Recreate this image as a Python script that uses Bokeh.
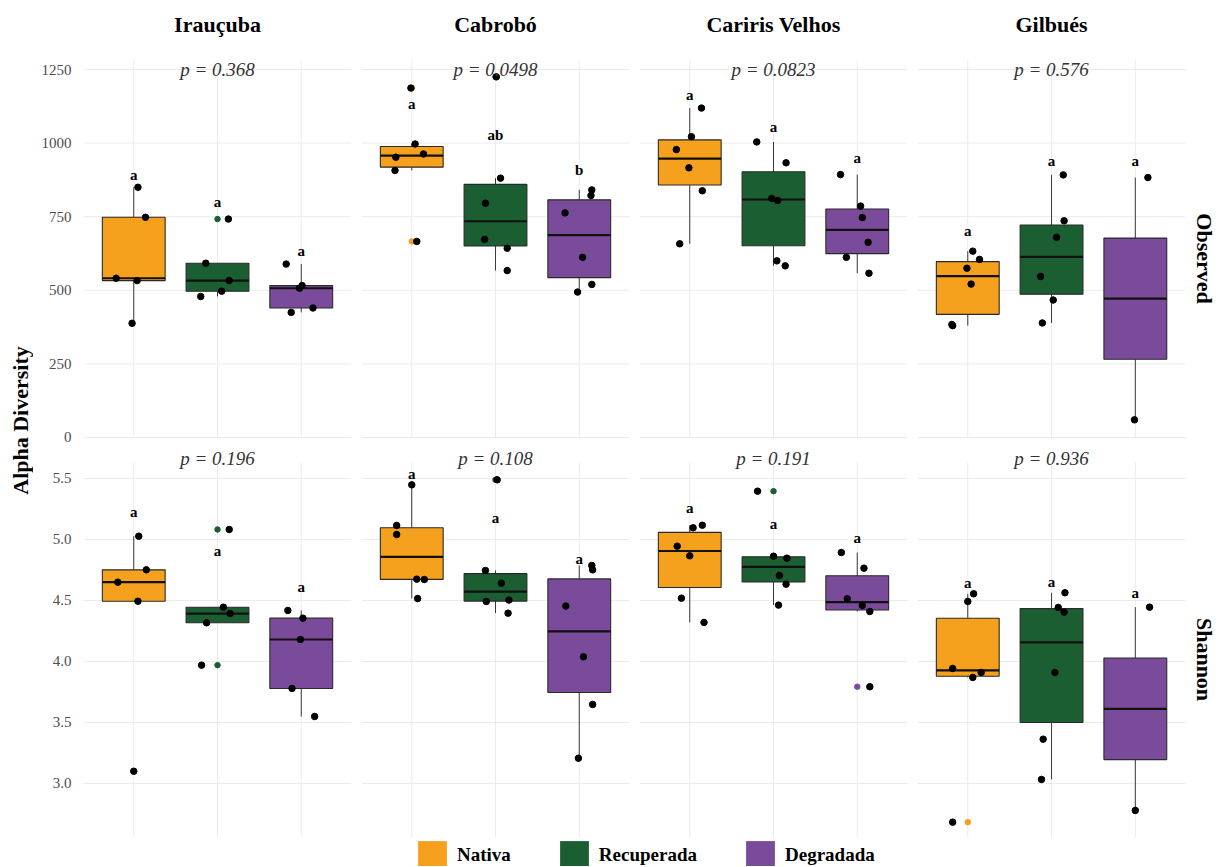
import numpy as np
from bokeh.plotting import figure
from bokeh.models import (Range1d, FixedTicker, LinearAxis, Label,
                          Legend, LegendItem, ColumnDataSource, PrintfTickFormatter)
from bokeh.layouts import row, column
from bokeh.embed import file_html
from bokeh.resources import INLINE
from bokeh.core.properties import value

SERIF = "Liberation Serif"

sites = ["Irauçuba", "Cabrobó", "Cariris Velhos", "Gilbués"]
metrics = ["Observed", "Shannon"]
groups = ["Nativa", "Recuperada", "Degradada"]
colors = ["#F6A11D", "#1B5E32", "#7B4B9B"]

# ---- Observed richness (per site: Nativa, Recuperada, Degradada) ----
obs_iraucuba = [[850, 748, 541, 533, 388],
                [742, 592, 533, 497, 479],
                [589, 516, 507, 440, 425]]
obs_cabrobo = [[1187, 997, 963, 952, 907, 666],
               [1225, 881, 796, 673, 643, 567],
               [841, 822, 763, 612, 520, 494]]
obs_cariris = [[1119, 1022, 978, 916, 838, 658],
               [1004, 933, 812, 805, 600, 583],
               [893, 786, 747, 663, 612, 558]]
obs_gilbues = [[633, 605, 575, 521, 384, 380],
               [892, 736, 680, 547, 467, 389],
               [883, 60]]

# ---- Shannon index ----
sha_iraucuba = [[5.027, 4.751, 4.65, 4.494, 3.10],
                [5.082, 4.445, 4.393, 4.317, 3.97],
                [4.418, 4.355, 4.18, 3.779, 3.549]]
sha_cabrobo = [[5.448, 5.115, 5.041, 4.675, 4.672, 4.516],
               [5.489, 4.746, 4.642, 4.492, 4.503, 4.396],
               [4.787, 4.751, 4.454, 4.038, 3.648, 3.207]]
sha_cariris = [[5.117, 5.096, 4.945, 4.866, 4.519, 4.32],
               [5.396, 4.863, 4.847, 4.705, 4.634, 4.462],
               [4.893, 4.765, 4.514, 4.459, 4.41, 3.793]]
sha_gilbues = [[4.555, 4.492, 3.943, 3.91, 3.869, 2.683],
               [4.563, 4.443, 4.404, 3.91, 3.363, 3.033],
               [4.445, 2.779]]

# ---- horizontal jitter of the sample points (category units) ----
obs_iraucuba_jit = [[0.05, 0.14, -0.21, 0.04, -0.02],
                    [0.13, -0.14, 0.14, 0.05, -0.20],
                    [-0.18, 0.01, -0.02, 0.14, -0.12]]
obs_cabrobo_jit = [[-0.01, 0.04, 0.14, -0.19, -0.20, 0.06],
                   [0.01, 0.06, -0.12, -0.13, 0.14, 0.14],
                   [0.15, 0.14, -0.17, 0.04, 0.15, -0.02]]
obs_cariris_jit = [[0.14, 0.02, -0.16, -0.01, 0.15, -0.12],
                   [-0.20, 0.15, -0.02, 0.05, 0.04, 0.14],
                   [-0.20, 0.04, 0.06, 0.13, -0.13, 0.14]]
obs_gilbues_jit = [[0.06, 0.14, -0.01, 0.04, -0.19, -0.18],
                   [0.14, 0.15, 0.06, -0.13, 0.02, -0.11],
                   [0.15, -0.01]]
sha_iraucuba_jit = [[0.06, 0.15, -0.19, 0.05, 0.0],
                    [0.14, 0.07, 0.15, -0.13, -0.19],
                    [-0.16, 0.02, -0.01, -0.11, 0.16]]
sha_cabrobo_jit = [[0.0, -0.18, -0.18, 0.06, 0.15, 0.07],
                   [0.02, -0.12, 0.07, -0.11, 0.16, 0.15],
                   [0.15, 0.16, -0.16, 0.05, 0.16, -0.01]]
sha_cariris_jit = [[0.15, 0.04, -0.15, 0.0, -0.10, 0.17],
                   [-0.19, 0.0, 0.16, 0.07, 0.15, 0.06],
                   [-0.19, 0.08, -0.12, 0.06, 0.15, 0.15]]
sha_gilbues_jit = [[0.07, 0.0, -0.18, 0.16, 0.06, -0.18],
                   [0.16, 0.08, 0.15, 0.04, -0.10, -0.12],
                   [0.17, 0.0]]

# ---- significance letters and their heights ----
obs_letters = [["a", "a", "a"], ["a", "ab", "b"], ["a", "a", "a"], ["a", "a", "a"]]
obs_letter_y = [[893, 799, 635], [1133, 1029, 907], [1164, 1054, 949], [703, 938, 938]]
sha_letters = [["a", "a", "a"], ["a", "a", "a"], ["a", "a", "a"], ["a", "a", "a"]]
sha_letter_y = [[5.224, 4.904, 4.61], [5.539, 5.175, 4.84], [5.26, 5.123, 5.014], [4.642, 4.65, 4.56]]

# ---- Kruskal-Wallis p values ----
obs_p = ["0.368", "0.0498", "0.0823", "0.576"]
sha_p = ["0.196", "0.108", "0.191", "0.936"]

obs_ticks = [0, 250, 500, 750, 1000, 1250]
sha_ticks = [3.0, 3.5, 4.0, 4.5, 5.0, 5.5]

obs_data = [obs_iraucuba, obs_cabrobo, obs_cariris, obs_gilbues]
obs_jit = [obs_iraucuba_jit, obs_cabrobo_jit, obs_cariris_jit, obs_gilbues_jit]
sha_data = [sha_iraucuba, sha_cabrobo, sha_cariris, sha_gilbues]
sha_jit = [sha_iraucuba_jit, sha_cabrobo_jit, sha_cariris_jit, sha_gilbues_jit]

GRID = "#EBEBEB"
BOXW = 0.75
X_PANEL = (0.4, 3.6)
PX_PER_CAT = 84.0

ROWS = {
    "Observed": dict(panel=(-3.4, 1280.6), frame=(-3.4, 1484.4), fh=438, bb=9,
                     p_y=1250, title_y=1402.8, strip_y=608, ticks=obs_ticks, fmt="%d"),
    "Shannon": dict(panel=(2.557, 5.631), frame=(2.557, 5.754), fh=390, bb=0,
                    p_y=5.665, title_y=None, strip_y=4.016, ticks=sha_ticks, fmt="%.1f"),
}


def box_stats(vals):
    v = np.asarray(vals, float)
    q1, med, q3 = np.percentile(v, [25, 50, 75])
    iqr = q3 - q1
    lo_f, hi_f = q1 - 1.5 * iqr, q3 + 1.5 * iqr
    inside = v[(v >= lo_f) & (v <= hi_f)]
    out = v[(v < lo_f) | (v > hi_f)]
    return q1, med, q3, inside.min(), inside.max(), out


def make_panel(col, metric, values, jitter, letters, letter_y, ptxt):
    cfg = ROWS[metric]
    left_b = 50 if col == 0 else 5
    fw = 304 if col == 3 else 268
    x_hi = X_PANEL[1] + (fw - 268) / PX_PER_CAT
    p = figure(frame_width=fw, frame_height=cfg["fh"],
               x_range=Range1d(X_PANEL[0], x_hi), y_range=Range1d(*cfg["frame"]),
               x_axis_location=None, y_axis_location=None,
               toolbar_location=None, output_backend="svg", title=None,
               min_border_left=left_b, min_border_right=5 if col < 3 else 0,
               min_border_top=0, min_border_bottom=cfg["bb"])
    p.grid.visible = False
    p.outline_line_color = None
    p.background_fill_color = "white"

    xs = [1, 2, 3]
    ticks = cfg["ticks"]
    lo, hi = cfg["panel"]
    # panel grid (limited to the panel area)
    p.segment(x0=xs, y0=[lo] * 3, x1=xs, y1=[hi] * 3, line_color=GRID, line_width=1)
    p.segment(x0=[X_PANEL[0]] * len(ticks), y0=ticks, x1=[X_PANEL[1]] * len(ticks), y1=ticks,
              line_color=GRID, line_width=1)

    if col == 0:
        ax = LinearAxis(ticker=FixedTicker(ticks=ticks),
                        formatter=PrintfTickFormatter(format=cfg["fmt"]),
                        axis_line_color=None, major_tick_line_color=None,
                        minor_tick_line_color=None, major_tick_out=0, major_tick_in=0,
                        major_label_standoff=12,
                        major_label_text_font=SERIF,
                        major_label_text_font_size="15px",
                        major_label_text_color="#4D4D4D")
        p.add_layout(ax, "left")

    stats = [box_stats(v) for v in values]
    src = ColumnDataSource(dict(
        x=xs,
        xl=[x - BOXW / 2 for x in xs], xr=[x + BOXW / 2 for x in xs],
        q1=[s[0] for s in stats], med=[s[1] for s in stats], q3=[s[2] for s in stats],
        lo=[s[3] for s in stats], hi=[s[4] for s in stats], color=colors))
    p.segment(x0="x", y0="q3", x1="x", y1="hi", source=src, line_color="#3A3A3A", line_width=1)
    p.segment(x0="x", y0="lo", x1="x", y1="q1", source=src, line_color="#3A3A3A", line_width=1)
    p.vbar(x="x", bottom="q1", top="q3", width=BOXW, source=src,
           fill_color="color", line_color="#2A2A2A", line_width=1.1)
    p.segment(x0="xl", y0="med", x1="xr", y1="med", source=src, line_color="#111111", line_width=2.2)

    ox, oy, oc = [], [], []
    for i, s in enumerate(stats):
        for o in s[5]:
            ox.append(xs[i]); oy.append(o); oc.append(colors[i])
    p.scatter(x=ox, y=oy, color=oc, size=5.5)

    px, py = [], []
    for i, (vals, jit) in enumerate(zip(values, jitter)):
        for v, j in zip(vals, jit):
            px.append(xs[i] + j); py.append(v)
    p.scatter(x=px, y=py, color="black", size=6.5)

    p.text(x=xs, y=letter_y, text=letters, text_font=value(SERIF), text_font_style="bold",
           text_font_size="15px", text_align="center", text_baseline="middle", text_color="black")

    p.add_layout(Label(x=2, y=cfg["p_y"], text="p = " + ptxt, text_align="center",
                       text_baseline="middle", text_font=SERIF, text_font_style="italic",
                       text_font_size="19px", text_color="#333333"))
    if cfg["title_y"] is not None:
        p.add_layout(Label(x=2, y=cfg["title_y"], text=sites[col], text_align="center",
                           text_baseline="middle", text_font=SERIF, text_font_style="bold",
                           text_font_size="22px", text_color="black"))
    if col == 3:
        p.add_layout(Label(x=X_PANEL[1] + 19 / PX_PER_CAT, y=cfg["strip_y"], text=metric,
                           angle=-np.pi / 2, text_align="center", text_baseline="middle",
                           text_font=SERIF, text_font_style="bold", text_font_size="22px",
                           text_color="black"))
    return p


top_figs = [make_panel(c, "Observed", obs_data[c], obs_jit[c], obs_letters[c],
                       obs_letter_y[c], obs_p[c]) for c in range(4)]
bot_figs = [make_panel(c, "Shannon", sha_data[c], sha_jit[c], sha_letters[c],
                       sha_letter_y[c], sha_p[c]) for c in range(4)]

# legend strip
leg = figure(frame_width=1188, frame_height=29, min_border=0,
             x_range=Range1d(0, 1), y_range=Range1d(0, 1),
             x_axis_location=None, y_axis_location=None,
             toolbar_location=None, output_backend="svg", title=None)
leg.grid.visible = False
leg.outline_line_color = None
rends = [leg.vbar(x=[-5], bottom=[-6], top=[-5], width=0.5, fill_color=c, line_color=None)
         for c in colors]
legend = Legend(items=[LegendItem(label=g, renderers=[r]) for g, r in zip(groups, rends)],
                orientation="horizontal", location=(381, -7),
                glyph_width=36, glyph_height=36, label_standoff=7, spacing=45,
                padding=0, margin=0, border_line_color=None, background_fill_alpha=0,
                label_text_font=SERIF, label_text_font_style="bold",
                label_text_font_size="19px", label_text_color="black")
leg.add_layout(legend)

# y label strip
ylab = figure(frame_width=33, frame_height=866, min_border=0,
              x_range=Range1d(0, 33), y_range=Range1d(0, 866),
              x_axis_location=None, y_axis_location=None,
              toolbar_location=None, output_backend="svg", title=None)
ylab.grid.visible = False
ylab.outline_line_color = None
ylab.add_layout(Label(x=20, y=866 - 420, text="Alpha Diversity", angle=np.pi / 2,
                      text_align="center", text_baseline="middle", text_font=SERIF,
                      text_font_style="bold", text_font_size="22px", text_color="black"))

root = row(ylab, column(row(*top_figs), row(*bot_figs), leg))
open("out.html", "w").write(file_html(root, INLINE))
